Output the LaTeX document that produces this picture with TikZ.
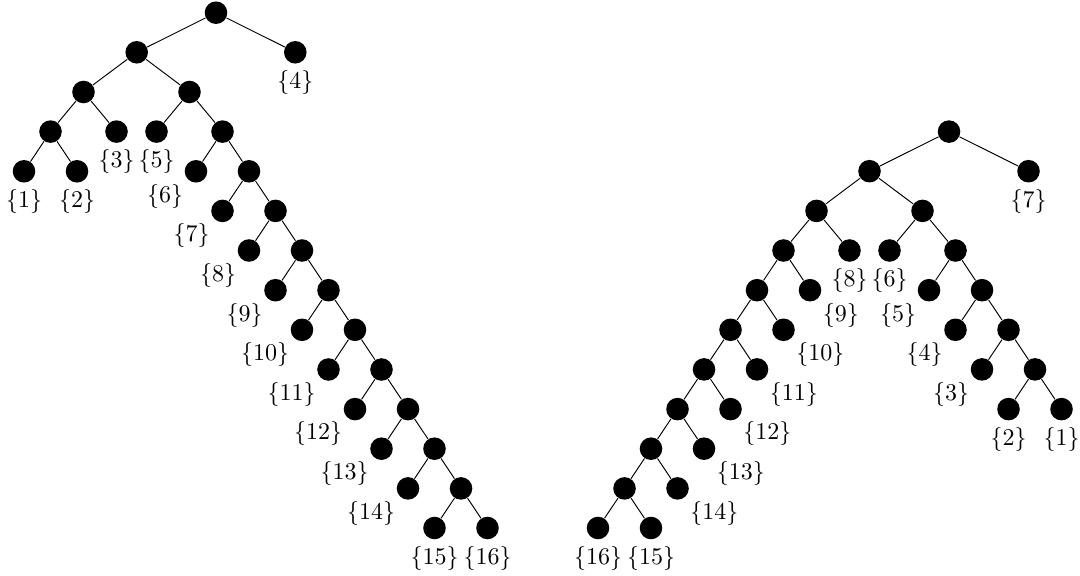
\documentclass[tikz,border=0pt]{standalone}
\begin{document}
\begin{tikzpicture}[x=0.41667pt,y=-0.41667pt,
  dot/.style={circle,fill=black,minimum size=9.4pt,inner sep=0pt},
  every label/.style={inner sep=0pt},
  label distance=2.4pt,
  edge/.style={line width=0.4pt}]
\useasboundingbox (0,0) rectangle (1080,575);
% ---------- left tree ----------
\node[dot] (Lr) at (216,12.7) {};
\node[dot] (La) at (136.7,52.3) {};
\node[dot,label=below:$\{4\}$] (L4) at (295.3,52.3) {};
\node[dot] (Lb) at (83.5,92.0) {};
\node[dot] (Lc) at (189.5,92.0) {};
\node[dot] (Ld) at (50.5,131.6) {};
\node[dot,label=below:$\{3\}$] (L3) at (116.5,131.6) {};
\node[dot,label=below:$\{5\}$] (L5) at (156.5,131.6) {};
\node[dot] (Ls3) at (222.5,131.6) {};
\node[dot,label=below:$\{1\}$] (L1) at (24,171.3) {};
\node[dot,label=below:$\{2\}$] (L2) at (77,171.3) {};
\node[dot,label=below left:$\{6\}$] (L6) at (196,171.3) {};
\node[dot] (Ls4) at (249,171.3) {};
\node[dot,label=below left:$\{7\}$] (L7) at (222.5,210.9) {};
\node[dot] (Ls5) at (275.5,210.9) {};
\node[dot,label=below left:$\{8\}$] (L8) at (249,250.5) {};
\node[dot] (Ls6) at (302,250.5) {};
\node[dot,label=below left:$\{9\}$] (L9) at (275.5,290.2) {};
\node[dot] (Ls7) at (328.5,290.2) {};
\node[dot,label=below left:$\{10\}$] (L10) at (302,329.8) {};
\node[dot] (Ls8) at (355,329.8) {};
\node[dot,label=below left:$\{11\}$] (L11) at (328.5,369.5) {};
\node[dot] (Ls9) at (381.5,369.5) {};
\node[dot,label=below left:$\{12\}$] (L12) at (355,409.1) {};
\node[dot] (Ls10) at (408,409.1) {};
\node[dot,label=below left:$\{13\}$] (L13) at (381.5,448.7) {};
\node[dot] (Ls11) at (434.5,448.7) {};
\node[dot,label=below left:$\{14\}$] (L14) at (408,488.4) {};
\node[dot] (Ls12) at (461,488.4) {};
\node[dot,label=below:$\{15\}$] (L15) at (434.5,528.0) {};
\node[dot,label=below:$\{16\}$] (L16) at (487.5,528.0) {};
\foreach \a/\b in {Lr/La,Lr/L4,La/Lb,La/Lc,Lb/Ld,Lb/L3,Ld/L1,Ld/L2,Lc/L5,Lc/Ls3,
  Ls3/L6,Ls3/Ls4,Ls4/L7,Ls4/Ls5,Ls5/L8,Ls5/Ls6,Ls6/L9,Ls6/Ls7,Ls7/L10,Ls7/Ls8,
  Ls8/L11,Ls8/Ls9,Ls9/L12,Ls9/Ls10,Ls10/L13,Ls10/Ls11,Ls11/L14,Ls11/Ls12,
  Ls12/L15,Ls12/L16}
  \draw[edge] (\a) -- (\b);
% ---------- right tree ----------
\node[dot] (Rr) at (949,131.6) {};
\node[dot] (RA) at (869.5,171.2) {};
\node[dot,label=below:$\{7\}$] (R7) at (1028.5,171.2) {};
\node[dot] (RB) at (816.5,210.9) {};
\node[dot] (RC) at (922.5,210.9) {};
\node[dot] (RD) at (783.5,250.5) {};
\node[dot,label=below:$\{8\}$] (R8) at (849.5,250.5) {};
\node[dot,label=below:$\{6\}$] (R6) at (889.5,250.5) {};
\node[dot] (RE) at (955.5,250.5) {};
\node[dot,label=below left:$\{5\}$] (R5) at (929,290.2) {};
\node[dot] (RF) at (982,290.2) {};
\node[dot,label=below left:$\{4\}$] (R4) at (955.5,329.8) {};
\node[dot] (RG) at (1008.5,329.8) {};
\node[dot,label=below left:$\{3\}$] (R3) at (982,369.4) {};
\node[dot] (RH) at (1035,369.4) {};
\node[dot,label=below:$\{2\}$] (R2) at (1008.5,409.1) {};
\node[dot,label=below:$\{1\}$] (R1) at (1061.5,409.1) {};
\node[dot] (RI) at (757,290.2) {};
\node[dot,label=below right:$\{9\}$] (R9) at (810,290.2) {};
\node[dot] (RJ) at (730.5,329.8) {};
\node[dot,label=below right:$\{10\}$] (R10) at (783.5,329.8) {};
\node[dot] (RK) at (704,369.4) {};
\node[dot,label=below right:$\{11\}$] (R11) at (757,369.4) {};
\node[dot] (RL) at (677.5,409.1) {};
\node[dot,label=below right:$\{12\}$] (R12) at (730.5,409.1) {};
\node[dot] (RM) at (651,448.7) {};
\node[dot,label=below right:$\{13\}$] (R13) at (704,448.7) {};
\node[dot] (RN) at (624.5,488.4) {};
\node[dot,label=below right:$\{14\}$] (R14) at (677.5,488.4) {};
\node[dot,label=below:$\{16\}$] (R16) at (598,528.0) {};
\node[dot,label=below:$\{15\}$] (R15) at (651,528.0) {};
\foreach \a/\b in {Rr/RA,Rr/R7,RA/RB,RA/RC,RB/RD,RB/R8,RC/R6,RC/RE,
  RE/R5,RE/RF,RF/R4,RF/RG,RG/R3,RG/RH,RH/R2,RH/R1,
  RD/RI,RD/R9,RI/RJ,RI/R10,RJ/RK,RJ/R11,RK/RL,RK/R12,RL/RM,RL/R13,
  RM/RN,RM/R14,RN/R16,RN/R15}
  \draw[edge] (\a) -- (\b);
\end{tikzpicture}
\end{document}
